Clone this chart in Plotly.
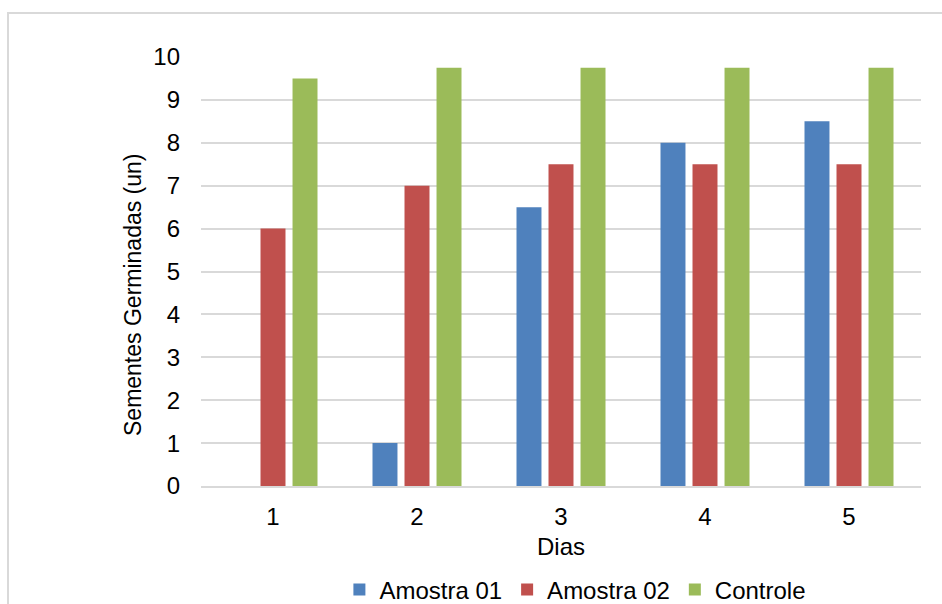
import plotly.graph_objects as go

# Germination counts per day
dias = ["1", "2", "3", "4", "5"]
amostra_01 = [0, 1, 6.5, 8, 8.5]
amostra_02 = [6, 7, 7.5, 7.5, 7.5]
controle = [9.5, 9.75, 9.75, 9.75, 9.75]

series = [
    ("Amostra 01", amostra_01, "#4F81BD"),
    ("Amostra 02", amostra_02, "#C0504D"),
    ("Controle", controle, "#9BBB59"),
]

FONT = "Liberation Sans, Arial, sans-serif"
FS = 24

fig = go.Figure()
for name, vals, color in series:
    fig.add_trace(go.Bar(x=dias, y=vals, name=name, marker=dict(color=color, line=dict(width=0))))

W, H = 942, 604
ml, mr, mt, mb = 201, 21, 57, 118
pw, ph = W - ml - mr, H - mt - mb

def px_to_paper_x(px):
    return (px - ml) / pw

def px_to_paper_y(py):
    return (H - mb - py) / ph

fig.update_layout(
    width=W,
    height=H,
    margin=dict(l=ml, r=mr, t=mt, b=mb, pad=0, autoexpand=False),
    paper_bgcolor="white",
    plot_bgcolor="white",
    font=dict(family=FONT, size=FS, color="#000000"),
    barmode="group",
    bargap=0.333,
    bargroupgap=0.22,
    showlegend=True,
    legend=dict(
        orientation="h",
        x=0.52,
        xanchor="center",
        y=px_to_paper_y(590),
        yanchor="middle",
        font=dict(size=FS),
        itemwidth=30,
        traceorder="normal",
    ),
    xaxis=dict(
        title=dict(text="Dias", font=dict(size=FS), standoff=9),
        showgrid=False,
        showline=True,
        linecolor="#D9D9D9",
        linewidth=2,
        ticks="",
        ticklabelstandoff=8,
        tickfont=dict(size=FS),
        automargin=False,
    ),
    yaxis=dict(
        range=[0, 10],
        dtick=1,
        showgrid=True,
        gridcolor="#D9D9D9",
        gridwidth=2,
        zeroline=False,
        showline=False,
        ticks="",
        ticklabelstandoff=20,
        tickfont=dict(size=FS),
        automargin=False,
    ),
    annotations=[
        dict(
            text="Sementes Germinadas (un)",
            textangle=-90,
            xref="paper",
            yref="paper",
            x=px_to_paper_x(133),
            y=px_to_paper_y(295),
            xanchor="center",
            yanchor="middle",
            showarrow=False,
            font=dict(size=23),
        )
    ],
    shapes=[
        dict(
            type="rect",
            xref="paper",
            yref="paper",
            x0=px_to_paper_x(8),
            x1=px_to_paper_x(960),
            y0=px_to_paper_y(620),
            y1=px_to_paper_y(13),
            line=dict(color="#D9D9D9", width=2),
            fillcolor="rgba(0,0,0,0)",
            layer="below",
        )
    ],
)

fig.write_html("out.html")
